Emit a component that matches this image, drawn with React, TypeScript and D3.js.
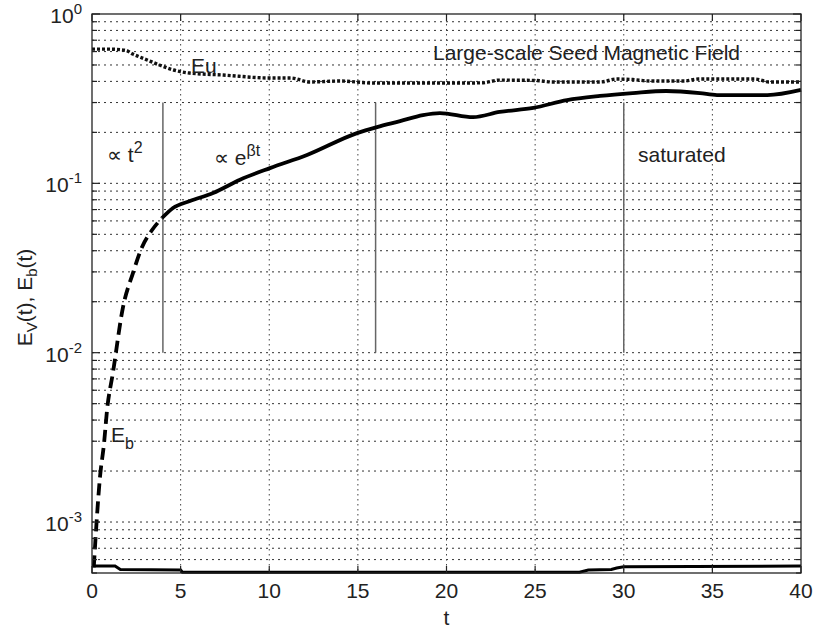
import React from 'react';
import * as d3 from 'd3';

const W = 815;
const H = 630;
const M = { left: 92, top: 14, right: 14, bottom: 57 };

const xTicks = [0, 5, 10, 15, 20, 25, 30, 35, 40];
const yMajorExps = [0, -1, -2, -3];

const euT = [0, 1, 1.9, 2.3, 2.7, 3.3, 3.8, 4.6, 5.5, 7.4, 10, 11.2, 12.3, 14, 15.9, 19.6, 22, 23, 25, 26, 28.7, 29.6, 30.5, 31.5, 33.4, 34.2, 37.4, 38.2, 40];
const euV = [0.62, 0.62, 0.61, 0.58, 0.557, 0.525, 0.5, 0.467, 0.448, 0.436, 0.419, 0.419, 0.397, 0.402, 0.391, 0.391, 0.392, 0.407, 0.405, 0.397, 0.397, 0.413, 0.41, 0.402, 0.402, 0.413, 0.413, 0.397, 0.397];

const ebDashT = [0.1, 0.23, 0.45, 0.68, 0.85, 1.18, 1.75, 2.31, 2.82, 3.39, 3.95];
const ebDashV = [5.4e-4, 9e-4, 1.84e-3, 2.92e-3, 4.6e-3, 7.6e-3, 0.0186, 0.0295, 0.042, 0.053, 0.0624];

const ebSolidT = [3.95, 4.57, 5.53, 6.83, 8.35, 10.04, 12.13, 14.95, 16.08, 17.38, 18.67, 19.63, 21.5, 23, 24.9, 26.8, 28.66, 30.5, 32.4, 34.3, 35.26, 38.1, 40];
const ebSolidV = [0.0624, 0.0715, 0.0786, 0.0877, 0.105, 0.123, 0.147, 0.198, 0.215, 0.233, 0.253, 0.26, 0.246, 0.264, 0.279, 0.31, 0.328, 0.341, 0.351, 0.341, 0.332, 0.332, 0.356];

const lowT = [0, 1.3, 1.6, 5, 5.1, 27.5, 28, 29.3, 29.6, 30, 40];
const lowV = [5.5e-4, 5.5e-4, 5.25e-4, 5.2e-4, 5.05e-4, 5.05e-4, 5.2e-4, 5.25e-4, 5.35e-4, 5.45e-4, 5.5e-4];

const markerT = [4, 16, 30];
const markerRange = [0.01, 0.3];

const FONT = "'Liberation Sans', Arial, sans-serif";

export default function App() {
  const x = d3.scaleLinear().domain([0, 40]).range([M.left, W - M.right]);
  const y = d3.scaleLog().domain([5e-4, 1]).range([H - M.bottom, M.top]);

  const minor: number[] = [];
  for (let e = -4; e <= -1; e++) {
    for (let k = 2; k <= 9; k++) {
      const v = k * Math.pow(10, e);
      if (v >= 5e-4 && v < 1) minor.push(v);
    }
  }
  const major = yMajorExps.map((e) => Math.pow(10, e));

  const line = d3
    .line<[number, number]>()
    .x((d) => x(d[0]))
    .y((d) => y(d[1]))
    .curve(d3.curveMonotoneX);

  const zip = (a: number[], b: number[]) => a.map((t, i) => [t, b[i]] as [number, number]);

  const x0 = x(0), x1 = x(40), yTop = y(1), yBot = y(5e-4);

  return (
    <div style={{ position: 'absolute', left: 0, top: 0 }}>
      <svg width={W} height={H} style={{ display: 'block', background: '#fff' }} fontFamily={FONT}>
        <rect x={0} y={0} width={W} height={H} fill="#fff" />
        {/* grid */}
        <g stroke="#333" strokeWidth={1} strokeDasharray="2,4">
          {[...major, ...minor].filter((v) => v < 1 && v > 5e-4).map((v, i) => (
            <line key={'h' + i} x1={x0} x2={x1} y1={y(v)} y2={y(v)} />
          ))}
        </g>
        <g stroke="#444" strokeWidth={1} strokeDasharray="1.5,3.5">
          {xTicks.filter((t) => t > 0 && t < 40).map((t) => (
            <line key={'v' + t} x1={x(t)} x2={x(t)} y1={yTop} y2={yBot} />
          ))}
        </g>
        {/* marker lines */}
        <g stroke="#666" strokeWidth={1.5}>
          {markerT.map((t) => (
            <line key={'m' + t} x1={x(t)} x2={x(t)} y1={y(markerRange[1])} y2={y(markerRange[0])} />
          ))}
        </g>
        {/* curves */}
        <path d={line(zip(euT, euV)) || ''} fill="none" stroke="#111" strokeWidth={3.4} strokeDasharray="3,2" />
        <path d={line(zip(ebDashT, ebDashV)) || ''} fill="none" stroke="#000" strokeWidth={3.8} strokeDasharray="12,6" />
        <path d={line(zip(ebSolidT, ebSolidV)) || ''} fill="none" stroke="#000" strokeWidth={3.8} />
        <path d={d3.line<[number, number]>().x((d) => x(d[0])).y((d) => y(d[1]))(zip(lowT, lowV)) || ''} fill="none" stroke="#000" strokeWidth={3} />
        {/* axes box */}
        <rect x={x0} y={yTop} width={x1 - x0} height={yBot - yTop} fill="none" stroke="#222" strokeWidth={1.3} />
        <g stroke="#222" strokeWidth={1.2}>
          {xTicks.map((t) => (
            <g key={'xt' + t}>
              <line x1={x(t)} x2={x(t)} y1={yBot} y2={yBot - 7} />
              <line x1={x(t)} x2={x(t)} y1={yTop} y2={yTop + 7} />
            </g>
          ))}
          {major.map((v, i) => (
            <g key={'ymj' + i}>
              <line x1={x0} x2={x0 + 8} y1={y(v)} y2={y(v)} />
              <line x1={x1} x2={x1 - 8} y1={y(v)} y2={y(v)} />
            </g>
          ))}
          {minor.map((v, i) => (
            <g key={'ymn' + i}>
              <line x1={x0} x2={x0 + 5} y1={y(v)} y2={y(v)} />
              <line x1={x1} x2={x1 - 5} y1={y(v)} y2={y(v)} />
            </g>
          ))}
        </g>
        {/* tick labels */}
        <g fontSize={21} fill="#222">
          {xTicks.map((t) => (
            <text key={'xl' + t} x={x(t)} y={yBot + 25} textAnchor="middle">{t}</text>
          ))}
          {yMajorExps.map((e) => (
            <text key={'yl' + e} x={82} y={y(Math.pow(10, e)) + 9} textAnchor="end">
              10<tspan fontSize={15} dy={-9}>{e}</tspan>
            </text>
          ))}
        </g>
        {/* axis titles */}
        <text x={x(20)} y={625} textAnchor="middle" fontSize={21} fill="#222">t</text>
        <text transform={`translate(32,${(yTop + yBot) / 2 + 4}) rotate(-90)`} textAnchor="middle" fontSize={21} fill="#222">
          E<tspan fontSize={15} dy={5}>V</tspan><tspan dy={-5}>(t), E</tspan><tspan fontSize={15} dy={5}>b</tspan><tspan dy={-5}>(t)</tspan>
        </text>
        {/* annotations */}
        <g fontSize={21} fill="#222">
          <text x={433} y={60}>Large-scale Seed Magnetic Field</text>
          <text x={191} y={73}>Eu</text>
          <text x={107} y={162}>∝ t<tspan fontSize={16} dy={-9}>2</tspan></text>
          <text x={214} y={165}>∝ e<tspan fontSize={16} dy={-9}>βt</tspan></text>
          <text x={638} y={162}>saturated</text>
          <text x={111} y={442}>E<tspan fontSize={16} dy={7}>b</tspan></text>
        </g>
      </svg>
    </div>
  );
}
